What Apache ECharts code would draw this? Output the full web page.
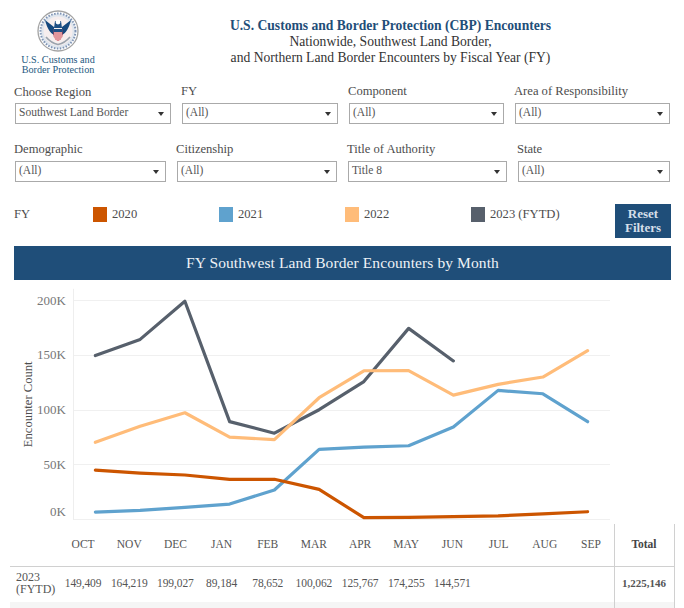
<!DOCTYPE html>
<html>
<head>
<meta charset="utf-8">
<script src="https://cdn.jsdelivr.net/npm/echarts@6/dist/echarts.min.js"></script>
<style>
html,body{margin:0;padding:0;background:#fff;width:684px;height:608px;overflow:hidden;font-family:"Liberation Serif",serif;color:#555}
#chart{position:absolute;left:0;top:0;width:684px;height:608px}
.a{position:absolute;white-space:nowrap}
.lab{font-size:12.6px;line-height:16px;color:#4d4d4d}
.box{position:absolute;box-sizing:border-box;border:1px solid #aaa;background:#fff;font-size:11.5px;color:#555;padding-left:3px;line-height:17px;height:21px}
.box:after{content:"";position:absolute;right:6px;top:8px;border-left:3.5px solid transparent;border-right:3.5px solid transparent;border-top:4px solid #333}
.sw{position:absolute;top:207px;width:14px;height:15px}
.hl{position:absolute;background:#d0d0d0}
.cell{position:absolute;top:575px;width:46.17px;text-align:center;font-size:11.5px;line-height:16px;color:#555;letter-spacing:-.1px}
</style>
</head>
<body>
<div id="chart"></div>
<div id="page"></div>
<script>
var months = ['OCT','NOV','DEC','JAN','FEB','MAR','APR','MAY','JUN','JUL','AUG','SEP'];
var years = ['2020','2021','2022','2023 (FYTD)'];
var colors = ['#cc5500','#5fa2ce','#ffbc79','#57606c'];
var fy2020 = [45000,42300,40500,36500,36600,27400,1600,1900,2600,3300,5000,7000];
var fy2021 = [6700,8300,11000,14000,26800,63900,66000,67200,84300,117700,114600,89100];
var fy2022 = [70300,84900,97300,75100,72700,111000,135600,135700,113400,123200,129900,153900];
var fy2023 = [149409,164219,199027,89184,78652,100062,125767,174255,144571];
var tableLabels = ['149,409','164,219','199,027','89,184','78,652','100,062','125,767','174,255','144,571'];
var totalLabel = '1,225,146';
var titleLines = ['U.S. Customs and Border Protection (CBP) Encounters','Nationwide, Southwest Land Border,','and Northern Land Border Encounters by Fiscal Year (FY)'];
var filters = [
  ['Choose Region','Southwest Land Border',14,92,15,103,156],
  ['FY','(All)',181,91,182,103,156],
  ['Component','(All)',348,91,349,103,155],
  ['Area of Responsibility','(All)',514,91,515,103,155],
  ['Demographic','(All)',14,149,15,161,151],
  ['Citizenship','(All)',176,149,177,161,160],
  ['Title of Authority','Title 8',347,149,348,161,159],
  ['State','(All)',517,149,518,161,152]
];

var page = document.getElementById('page');
function add(cls, style, text){
  var d = document.createElement('div');
  d.className = cls; d.style.cssText = style;
  if(text !== undefined) d.textContent = text;
  page.appendChild(d); return d;
}
// seal
var seal = document.createElement('div');
seal.className = 'a'; seal.style.cssText = 'left:37px;top:10px;width:42px;height:42px';
seal.innerHTML = '<svg width="42" height="42" viewBox="0 0 42 42">'+
 '<circle cx="21" cy="21" r="20" fill="#fff" stroke="#a3a3a3" stroke-width="1.3"/>'+
 '<circle cx="21" cy="21" r="17.5" fill="#dfe6ee"/>'+
 '<circle cx="21" cy="21" r="17.5" fill="none" stroke="#7f94b5" stroke-width="2" stroke-dasharray="1.5 1.5"/>'+
 '<circle cx="21" cy="21" r="14.5" fill="#f6eeee"/>'+
 '<path d="M8 10 C10 18 13 23 17 25 L17 17 C14 15 11 12 8 10Z M34 10 C32 18 29 23 25 25 L25 17 C28 15 31 12 34 10Z" fill="#15497f"/>'+
 '<path d="M18 11 L24 11 L25 18 L17 18Z" fill="#1d4f84"/><circle cx="21" cy="12" r="2.4" fill="#fff"/>'+
 '<path d="M16.5 19 H25.5 V25 Q25.5 29 21 31 Q16.5 29 16.5 25Z" fill="#c9404a"/>'+
 '<path d="M18 22 V29 M20 22 V30.5 M22 22 V30.5 M24 22 V29" stroke="#fff" stroke-width=".9"/>'+
 '<path d="M16.5 19 H25.5 V22 H16.5Z" fill="#1d4f84"/>'+
 '<path d="M9 27 Q14 33 21 34.5 Q28 33 33 27" fill="none" stroke="#9aa3ad" stroke-width="1.6"/></svg>';
page.appendChild(seal);
add('a','left:0;width:116px;text-align:center;top:54.5px;font-size:10.2px;line-height:10.5px;color:#24597f','U.S. Customs and');
add('a','left:0;width:116px;text-align:center;top:65px;font-size:10.2px;line-height:10.5px;color:#24597f','Border Protection');
// title
add('a','left:100px;width:581px;text-align:center;top:18px;font-size:13.6px;line-height:16px;font-weight:bold;color:#1f4e79',titleLines[0]);
add('a','left:100px;width:581px;text-align:center;top:34px;font-size:13.6px;line-height:16px;color:#333',titleLines[1]);
add('a','left:100px;width:581px;text-align:center;top:50px;font-size:13.6px;line-height:16px;color:#333',titleLines[2]);
// filters
filters.forEach(function(f){
  add('a lab','left:'+f[2]+'px;top:'+(f[3]-8)+'px',f[0]);
  add('box','left:'+f[4]+'px;top:'+f[5]+'px;width:'+f[6]+'px',f[1]);
});
// legend
add('a lab','left:14px;top:206px','FY');
[93,219,345,471].forEach(function(x,i){
  add('sw','left:'+x+'px;background:'+colors[i]);
  add('a lab','left:'+(x+19)+'px;top:206px',years[i]);
});
// reset + banner
add('a','left:615px;top:204px;width:56px;height:34px;background:#1f4e79;color:#d5dfe9;text-align:center;font-size:13px;font-weight:bold;line-height:14.5px;padding-top:2.5px;box-sizing:border-box;white-space:normal','Reset Filters');
add('a','left:14px;top:246px;width:657px;height:34px;background:#1f4e79;color:#eef2f6;text-align:center;font-size:15.5px;line-height:33px;letter-spacing:.1px','FY Southwest Land Border Encounters by Month');
// table
add('hl','left:10px;top:566px;width:665px;height:1px');
add('a','left:10px;top:602px;width:665px;height:6px;background:#f5f5f5');
add('hl','left:614px;top:524px;width:1px;height:84px');
add('hl','left:674px;top:524px;width:1px;height:84px');
add('a','left:16px;top:571px;width:44px;white-space:normal;font-size:12px;line-height:12px;color:#555','2023 (FYTD)');
tableLabels.forEach(function(t,i){
  add('cell','left:'+(60+46.17*i)+'px',t);
});
add('a','left:614px;width:60px;text-align:center;top:536px;font-size:11.5px;line-height:16px;font-weight:bold;color:#444','Total');
add('a','left:614px;width:60px;text-align:center;top:575px;font-size:11px;line-height:16px;font-weight:bold;color:#555',totalLabel);

var chart = echarts.init(document.getElementById('chart'), null, {renderer:'svg'});
function line(name, data, color, width){
  return {name:name, type:'line', data:data, showSymbol:false, symbol:'none', silent:true, animation:false,
    lineStyle:{color:color, width:width, cap:'round', join:'round'}, itemStyle:{color:color}};
}
chart.setOption({
  animation:false,
  grid:[
    {left:73, right:74, top:289.2, bottom:88.6, containLabel:false},
    {left:60, right:70, top:519.4, height:1, containLabel:false}
  ],
  xAxis:[
    {gridIndex:0, type:'category', data:months, boundaryGap:true,
      axisLine:{show:false}, axisTick:{show:false}, axisLabel:{show:false}},
    {gridIndex:1, type:'category', data:months, boundaryGap:true, position:'bottom',
      axisLine:{show:false}, axisTick:{show:false},
      axisLabel:{interval:0, margin:18, color:'#555', fontFamily:'Liberation Serif', fontSize:11.5}}
  ],
  yAxis:[
    {gridIndex:0, type:'value', min:0, max:210000, interval:50000,
      name:'Encounter Count', nameLocation:'middle', nameGap:39, nameRotate:90, nameMoveOverlap:false,
      nameTextStyle:{color:'#4d4d4d', fontFamily:'Liberation Serif', fontSize:12.6},
      axisLine:{show:true, lineStyle:{color:'#eeeeee', width:1}}, axisTick:{show:false},
      splitLine:{show:true, showMaxLine:false, lineStyle:{color:'#f0f0f0', width:1}},
      axisLabel:{margin:7, color:'#777', fontFamily:'Liberation Serif', fontSize:13, showMaxLabel:false, verticalAlignMinLabel:'bottom', padding:[0,0,1,0],
        formatter:function(v){return (v/1000)+'K';}}},
    {gridIndex:1, type:'value', show:false, min:0, max:1}
  ],
  series:[
    line(years[3], fy2023, colors[3], 3.2),
    line(years[2], fy2022, colors[2], 3.2),
    line(years[1], fy2021, colors[1], 3.2),
    line(years[0], fy2020, colors[0], 3.2)
  ]
});
</script>
</body>
</html>
